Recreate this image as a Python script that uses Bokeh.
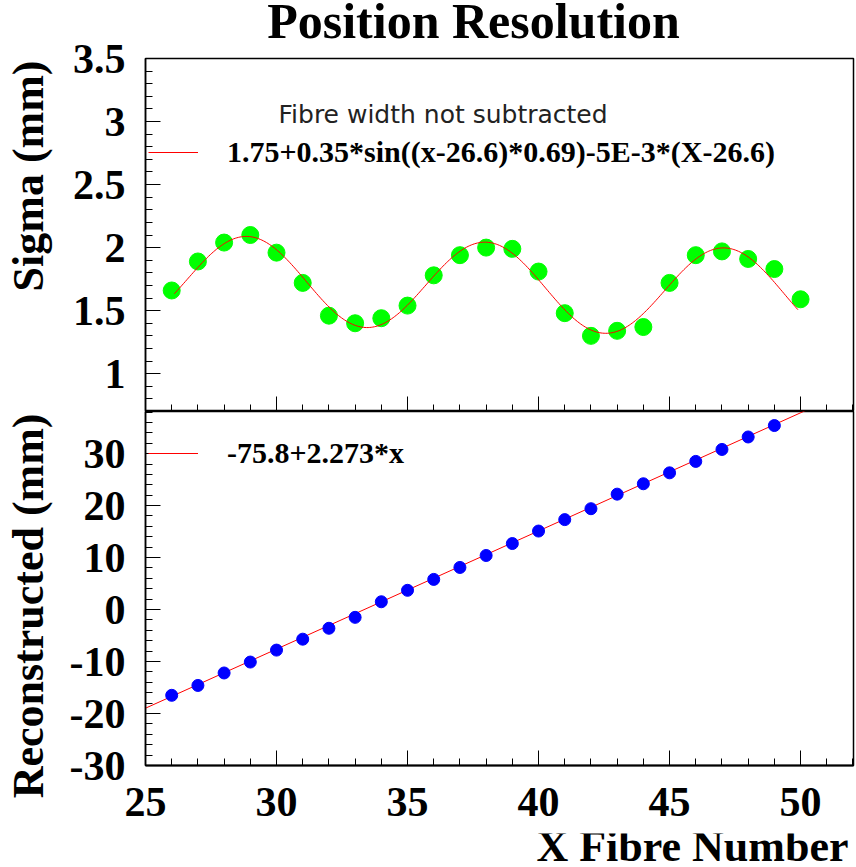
import numpy as np
from bokeh.plotting import figure
from bokeh.models import (Range1d, SingleIntervalTicker, Label, Legend, LegendItem,
                          CustomLabelingPolicy)
from bokeh.layouts import column, row
from bokeh.embed import file_html
from bokeh.resources import INLINE

# ---------------- data ----------------
title_text = "Position Resolution"
x_title = "X Fibre Number"
y_title_top = "Sigma (mm)"
y_title_bottom = "Reconstructed (mm)"
header_text = "Fibre width not subtracted"

fibre_sigma = [26, 27, 28, 29, 30, 31, 32, 33, 34, 35, 36, 37, 38,
               39, 40, 41, 42, 43, 44, 45, 46, 47, 48, 49, 50]
sigma = [1.66, 1.89, 2.04, 2.10, 1.96, 1.72, 1.46, 1.40, 1.44, 1.54, 1.78, 1.94, 2.00,
         1.99, 1.81, 1.48, 1.30, 1.34, 1.37, 1.72, 1.94, 1.97, 1.91, 1.83, 1.59]

fibre_rec = [26, 27, 28, 29, 30, 31, 32, 33, 34, 35, 36, 37,
             38, 39, 40, 41, 42, 43, 44, 45, 46, 47, 48, 49]
reconstructed = [-16.5, -14.6, -12.2, -10.1, -7.8, -5.7, -3.6, -1.5, 1.5, 3.7, 5.8, 8.1,
                 10.4, 12.7, 15.1, 17.3, 19.4, 22.2, 24.2, 26.3, 28.5, 30.8, 33.2, 35.4]

# tick labels of the lower y axis (plain hyphen minus, as in the original)
y_bot_ticks = [-30, -20, -10, 0, 10, 20, 30]
y_bot_tick_labels = ["-30", "-20", "-10", "0", "10", "20", "30"]

# fit parameters as printed in the legends
sin_fit_label = "1.75+0.35*sin((x-26.6)*0.69)-5E-3*(X-26.6)"
sin_fit_const, sin_fit_amp, sin_fit_x0, sin_fit_freq, sin_fit_slope = 1.75, 0.35, 26.6, 0.69, 5e-3
sin_fit_range = [26.1, 49.9]
lin_fit_label = "-75.8+2.273*x"
lin_fit_intercept, lin_fit_slope = -75.8, 2.273
lin_fit_range = [25.0, 52.0]

x_range_lim = [25.0, 52.02]
y_top_lim = [0.7, 3.5]
y_bot_lim = [-30.0, 38.1]

SERIF = "Liberation Serif"


# ---------------- helpers ----------------
def text_canvas(width, height):
    f = figure(width=width, height=height, x_range=Range1d(0, 1), y_range=Range1d(0, 1),
               output_backend="svg", toolbar_location=None,
               x_axis_location=None, y_axis_location=None,
               min_border=0, min_border_left=0, min_border_right=0,
               min_border_top=0, min_border_bottom=0)
    f.outline_line_color = None
    f.xgrid.visible = False
    f.ygrid.visible = False
    f.background_fill_color = "white"
    f.border_fill_color = "white"
    return f


def style_axes(p, xint, yint, show_xlabels):
    p.xaxis.ticker = SingleIntervalTicker(interval=xint, num_minor_ticks=5)
    p.yaxis.ticker = SingleIntervalTicker(interval=yint, num_minor_ticks=5)
    for ax in (p.xaxis, p.yaxis):
        ax.axis_line_color = "black"
        ax.major_tick_line_color = "black"
        ax.minor_tick_line_color = "black"
        ax.major_tick_in = 15
        ax.major_tick_out = 0
        ax.minor_tick_in = 7
        ax.minor_tick_out = 0
        ax.major_label_text_font = SERIF
        ax.major_label_text_font_style = "bold"
        ax.major_label_text_font_size = "42px"
        ax.major_label_text_color = "black"
    p.yaxis.axis_line_width = 1.5
    p.xaxis.axis_line_width = 2
    p.yaxis.major_label_standoff = 20
    if show_xlabels:
        p.xaxis.major_label_standoff = 22
    else:
        p.xaxis.major_label_text_font_size = "0px"
        p.xaxis.major_label_standoff = 0
        p.xaxis.major_label_policy = CustomLabelingPolicy(code="""
            for (let i = 0; i < indices.size; i++) { indices.unset(i) }
            return indices
        """)
    p.xgrid.visible = False
    p.ygrid.visible = False
    p.outline_line_color = "black"
    p.outline_line_width = 1.5
    p.background_fill_color = "white"
    p.border_fill_color = "white"


xr = Range1d(*x_range_lim)

# ---------------- title strip ----------------
t_fig = text_canvas(856, 43)
t_fig.add_layout(Label(x=473, y=23, x_units="screen", y_units="screen", text=title_text,
                       text_font=SERIF, text_font_style="bold", text_font_size="50px",
                       text_align="center", text_baseline="alphabetic", text_color="black"))

# ---------------- top panel ----------------
p1 = figure(width=796, height=368, x_range=xr, y_range=Range1d(*y_top_lim),
            output_backend="svg", toolbar_location=None,
            min_border_left=85, min_border_right=3, min_border_top=15, min_border_bottom=0)
style_axes(p1, 5, 0.5, False)

fx = np.linspace(sin_fit_range[0], sin_fit_range[1], 400)
fy = (sin_fit_const + sin_fit_amp * np.sin((fx - sin_fit_x0) * sin_fit_freq)
      - sin_fit_slope * (fx - sin_fit_x0))
p1.scatter(fibre_sigma, sigma, size=17, color="#00ff00", line_color="#00ff00")
r_sin = p1.line(fx, fy, line_color="#ff0000", line_width=1)

leg1 = Legend(items=[LegendItem(label=sin_fit_label, renderers=[r_sin])],
              location=(3, 242), glyph_width=50, glyph_height=20, label_standoff=29,
              padding=0, margin=0, spacing=0, border_line_color=None,
              background_fill_alpha=0, label_text_font=SERIF,
              label_text_font_style="bold", label_text_font_size="30px",
              label_text_color="black")
p1.add_layout(leg1, "center")
p1.add_layout(Label(x=133, y=297, x_units="screen", y_units="screen", text=header_text,
                    text_font="DejaVu Sans", text_font_size="25px", text_color="#222222",
                    text_baseline="alphabetic"))

# ---------------- bottom panel ----------------
p2 = figure(width=796, height=422, x_range=xr, y_range=Range1d(*y_bot_lim),
            output_backend="svg", toolbar_location=None,
            min_border_left=85, min_border_right=3, min_border_top=0, min_border_bottom=68)
style_axes(p2, 5, 10, True)
p2.yaxis.major_label_overrides = {float(v): s for v, s in zip(y_bot_ticks, y_bot_tick_labels)}

lx = np.array(lin_fit_range)
ly = lin_fit_intercept + lin_fit_slope * lx
r_lin = p2.line(lx, ly, line_color="#ff0000", line_width=1)
p2.scatter(fibre_rec, reconstructed, size=12, color="#0000ff", line_color="#0000ff")

leg2 = Legend(items=[LegendItem(label=lin_fit_label, renderers=[r_lin])],
              location=(3, 295), glyph_width=50, glyph_height=20, label_standoff=29,
              padding=0, margin=0, spacing=0, border_line_color=None,
              background_fill_alpha=0, label_text_font=SERIF,
              label_text_font_style="bold", label_text_font_size="30px",
              label_text_color="black")
p2.add_layout(leg2, "center")

# ---------------- y titles strip (spans both panels) ----------------
yl_fig = text_canvas(60, 790)
yl_fig.add_layout(Label(x=28, y=773, x_units="screen", y_units="screen", text=y_title_top,
                        angle=np.pi / 2, text_font=SERIF, text_font_style="bold",
                        text_font_size="44px", text_align="right",
                        text_baseline="alphabetic", text_color="black"))
yl_fig.add_layout(Label(x=28, y=420, x_units="screen", y_units="screen", text=y_title_bottom,
                        angle=np.pi / 2, text_font=SERIF, text_font_style="bold",
                        text_font_size="44px", text_align="right",
                        text_baseline="alphabetic", text_color="black"))

# ---------------- x title strip ----------------
xt_fig = text_canvas(856, 34)
xt_fig.add_layout(Label(x=848, y=21, x_units="screen", y_units="screen", text=x_title,
                        text_font=SERIF, text_font_style="bold", text_font_size="44px",
                        text_align="right", text_baseline="alphabetic", text_color="black"))

layout = column(t_fig, row(yl_fig, column(p1, p2, spacing=0), spacing=0), xt_fig, spacing=0)
open("out.html", "w").write(file_html(layout, INLINE))
